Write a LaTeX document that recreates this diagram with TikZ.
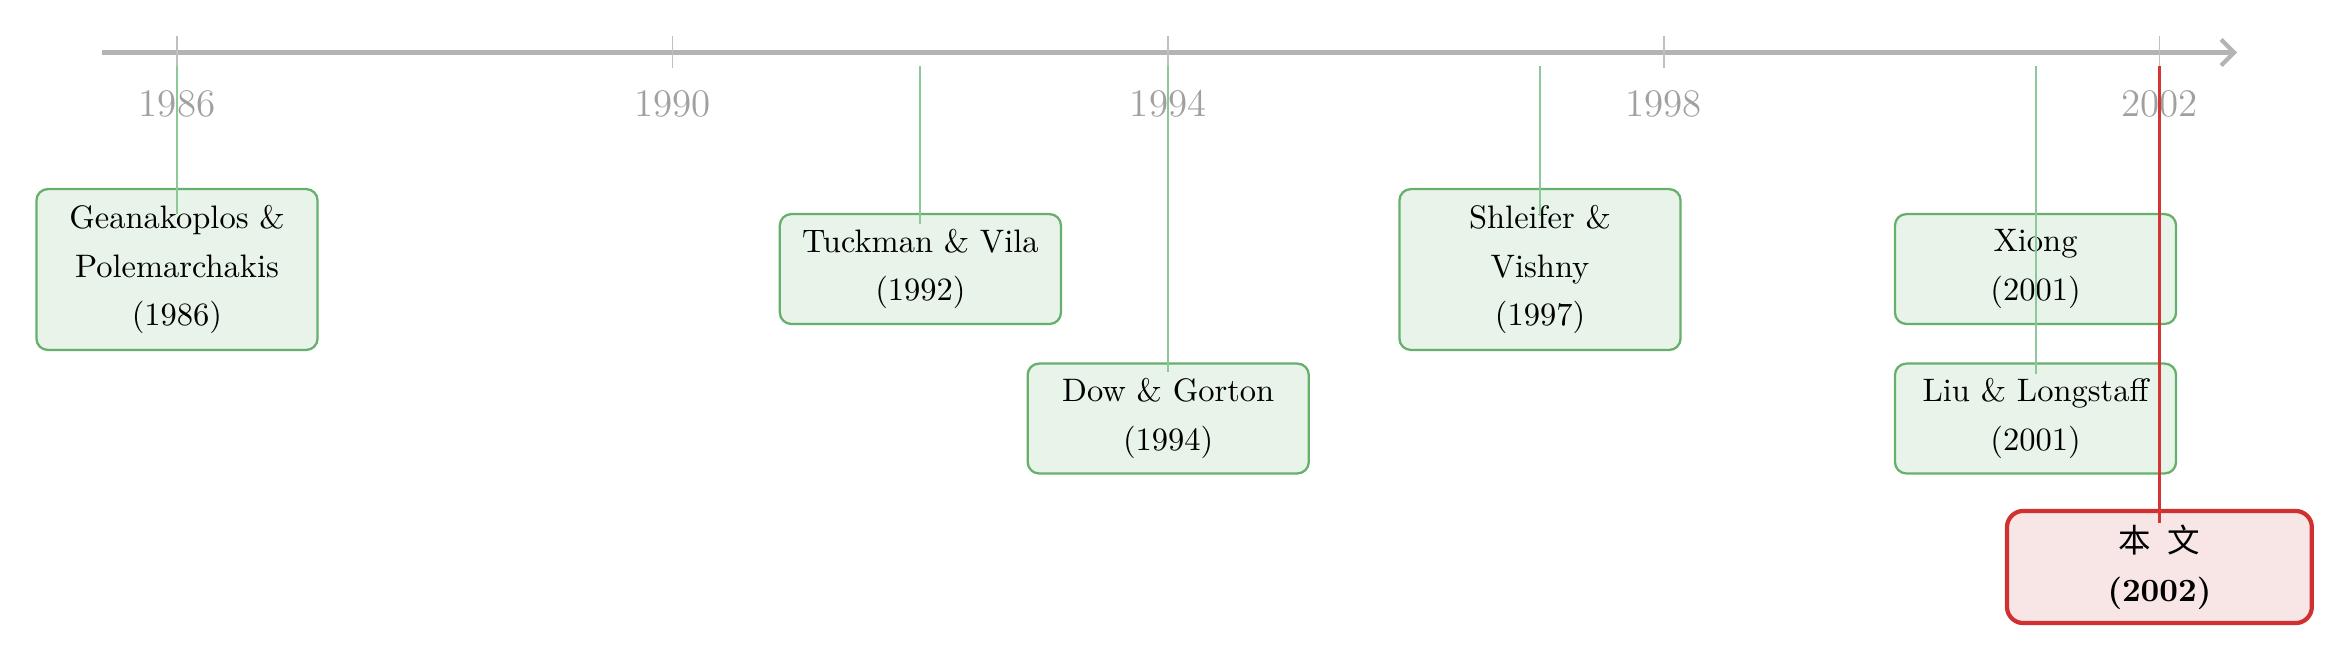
\documentclass[tikz,border=0pt]{standalone}
\usepackage{fontspec}
\newfontfamily\cjk{Noto Sans CJK SC}
\usetikzlibrary{arrows.meta}
\definecolor{axisgray}{RGB}{180,180,180}
\definecolor{tickgray}{RGB}{192,192,192}
\definecolor{yeargray}{RGB}{160,160,160}
\definecolor{gline}{RGB}{140,200,152}
\definecolor{gfill}{RGB}{232,243,233}
\definecolor{gdraw}{RGB}{102,176,108}
\definecolor{rline}{RGB}{214,52,52}
\definecolor{rfill}{RGB}{248,229,230}
\definecolor{rdraw}{RGB}{208,48,48}
\tikzset{
  paper/.style={draw=gdraw, fill=gfill, line width=0.7pt, rounded corners=3.5pt,
    minimum width=86.5pt, align=center, inner sep=2pt,
    font=\fontsize{10}{15}\selectfont},
  threeline/.style={minimum height=49.5pt},
  twoline/.style={minimum height=33.8pt},
  ours/.style={draw=rdraw, fill=rfill, line width=1.3pt, rounded corners=5pt,
    minimum width=93.8pt, minimum height=34.5pt, align=center, inner sep=2pt,
    font=\fontsize{10}{15}\selectfont\bfseries},
  yearlabel/.style={text=yeargray, font=\fontsize{12}{14}\selectfont},
  tickline/.style={draw=tickgray, line width=0.5pt},
  conn/.style={draw=gline, line width=0.6pt},
  connred/.style={draw=rline, line width=0.7pt},
  axisline/.style={draw=axisgray, line width=1.3pt, -{Straight Barb[length=4pt,width=8pt]}}
}
\begin{document}
\begin{tikzpicture}[x=0.30769pt, y=-0.30769pt]
\useasboundingbox (0,0) rectangle (2352,664);
% axis
\coordinate (axS) at (102,52.5);
\coordinate (axE) at (2237,52.5);
\draw[axisline] (axS) -- (axE);
% ticks and year labels
\foreach \yr/\xx in {1986/177,1990/672.6,1994/1168.2,1998/1663.8,2002/2159.4}{
  \coordinate (tkA\yr) at (\xx,36);
  \coordinate (tkB\yr) at (\xx,68);
  \draw[tickline] (tkA\yr) -- (tkB\yr);
  \node[yearlabel] (lab\yr) at (\xx,104) {\yr};
}
% boxes
\node[paper, threeline] (gean) at (177,269.5) {Geanakoplos \&\\ Polemarchakis\\ (1986)};
\node[paper, twoline] (tuck) at (920.4,269) {Tuckman \& Vila\\ (1992)};
\node[paper, twoline] (dow) at (1168.2,418.5) {Dow \& Gorton\\ (1994)};
\node[paper, threeline] (shle) at (1540,269.5) {Shleifer \&\\ Vishny\\ (1997)};
\node[paper, twoline] (xiong) at (2035.5,269) {Xiong\\ (2001)};
\node[paper, twoline] (liu) at (2035.5,418.5) {Liu \& Longstaff\\ (2001)};
\node[ours] (ours) at (2159.4,567) {{\cjk\mdseries 本\hspace{0.5em}文}\\ (2002)};
% connectors
\coordinate (c1986) at (177,66);
\coordinate (c1992) at (920.4,66);
\coordinate (c1994) at (1168.2,66);
\coordinate (c1997) at (1540,66);
\coordinate (c2001) at (2035.5,66);
\coordinate (c2002) at (2159.4,66);
\draw[conn] (c1986) -- ([yshift=-8pt]gean.north);
\draw[conn] (c1992) -- ([yshift=-3.4pt]tuck.north);
\draw[conn] (c1994) -- ([yshift=-2.8pt]dow.north);
\draw[conn] (c1997) -- ([yshift=-8.6pt]shle.north);
\draw[conn] (c2001) -- ([yshift=-3.7pt]liu.north);
\draw[connred] (c2002) -- ([yshift=-4.3pt]ours.north);
\end{tikzpicture}
\end{document}
